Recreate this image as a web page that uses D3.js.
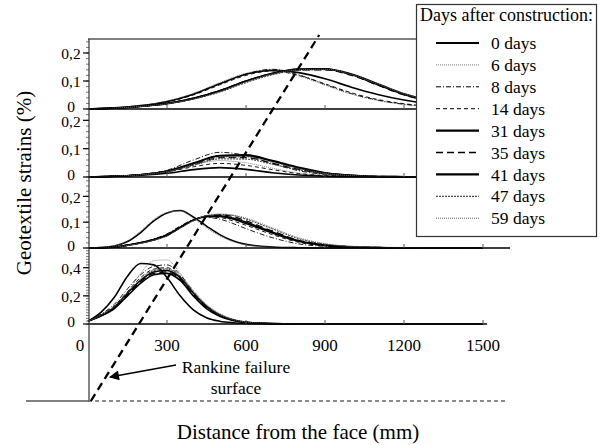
<!DOCTYPE html>
<html>
<head>
<meta charset="utf-8">
<script src="https://cdn.jsdelivr.net/npm/d3@7/dist/d3.min.js"></script>
<style>
  body { margin: 0; background: #fff; }
  svg text { font-family: "Liberation Serif", "DejaVu Serif", "Times New Roman", Times, serif; fill: #000; }
</style>
</head>
<body>
<div id="chart"></div>
<script>
// legend entries
var days = ["0 days", "6 days", "8 days", "14 days", "31 days", "35 days", "41 days", "47 days", "59 days"];

// distance from the face (mm) where strains were read
var dist = [0, 100, 200, 300, 400, 500, 600, 700, 800, 900, 1000, 1100, 1200, 1300, 1400, 1500];
var dist3 = [0, 100, 150, 200, 250, 300, 350, 400, 450, 500, 550, 600, 700, 800, 900, 1000, 1200, 1500];
var dist4 = [0, 50, 100, 150, 200, 250, 300, 350, 400, 450, 500, 550, 600, 700, 800, 1000, 1500];

// strains (%) per day, top layer first
var strains1 = [
  [0, 0.004, 0.012, 0.027, 0.053, 0.09, 0.124, 0.138, 0.13, 0.108, 0.078, 0.052, 0.032, 0.018, 0.01, 0.005],
  [0, 0.004, 0.013, 0.028, 0.056, 0.094, 0.128, 0.14, 0.118, 0.085, 0.053, 0.03, 0.016, 0.009, 0.004, 0.002],
  [0, 0.004, 0.012, 0.026, 0.052, 0.09, 0.125, 0.142, 0.122, 0.088, 0.055, 0.032, 0.017, 0.009, 0.004, 0.002],
  [0, 0.003, 0.011, 0.025, 0.05, 0.086, 0.12, 0.136, 0.12, 0.09, 0.058, 0.034, 0.019, 0.01, 0.005, 0.002],
  [0, 0.003, 0.009, 0.019, 0.037, 0.064, 0.099, 0.127, 0.142, 0.143, 0.123, 0.087, 0.052, 0.029, 0.015, 0.007],
  [0, 0.003, 0.009, 0.02, 0.039, 0.066, 0.1, 0.126, 0.14, 0.14, 0.12, 0.085, 0.05, 0.028, 0.014, 0.007],
  [0, 0.003, 0.01, 0.02, 0.038, 0.065, 0.1, 0.128, 0.143, 0.144, 0.125, 0.09, 0.054, 0.03, 0.016, 0.008],
  [0, 0.003, 0.009, 0.018, 0.035, 0.06, 0.094, 0.122, 0.138, 0.14, 0.122, 0.088, 0.053, 0.03, 0.015, 0.007],
  [0, 0.003, 0.009, 0.019, 0.036, 0.062, 0.097, 0.125, 0.14, 0.142, 0.124, 0.09, 0.055, 0.031, 0.016, 0.008]
];
var strains2 = [
  [0, 0.002, 0.006, 0.013, 0.026, 0.033, 0.027, 0.015, 0.007, 0.003, 0.001, 0, 0, 0, 0, 0],
  [0, 0.003, 0.008, 0.019, 0.042, 0.058, 0.05, 0.031, 0.014, 0.005, 0.002, 0.001, 0, 0, 0, 0],
  [0, 0.003, 0.009, 0.024, 0.06, 0.087, 0.076, 0.047, 0.022, 0.009, 0.003, 0.001, 0, 0, 0, 0],
  [0, 0.003, 0.008, 0.018, 0.036, 0.048, 0.041, 0.026, 0.012, 0.005, 0.002, 0.001, 0, 0, 0, 0],
  [0, 0.003, 0.008, 0.02, 0.047, 0.074, 0.075, 0.056, 0.032, 0.014, 0.006, 0.002, 0.001, 0, 0, 0],
  [0, 0.003, 0.008, 0.019, 0.044, 0.068, 0.068, 0.049, 0.027, 0.012, 0.005, 0.002, 0.001, 0, 0, 0],
  [0, 0.003, 0.008, 0.021, 0.049, 0.076, 0.078, 0.058, 0.034, 0.015, 0.006, 0.002, 0.001, 0, 0, 0],
  [0, 0.003, 0.008, 0.018, 0.041, 0.064, 0.063, 0.045, 0.025, 0.011, 0.004, 0.002, 0.001, 0, 0, 0],
  [0, 0.003, 0.008, 0.019, 0.044, 0.069, 0.07, 0.052, 0.03, 0.013, 0.005, 0.002, 0.001, 0, 0, 0]
];
var strains3 = [
  [0, 0.008, 0.025, 0.06, 0.105, 0.136, 0.145, 0.12, 0.085, 0.052, 0.028, 0.014, 0.004, 0.001, 0, 0, 0, 0],
  [0, 0.009, 0.028, 0.066, 0.11, 0.138, 0.143, 0.115, 0.078, 0.047, 0.025, 0.012, 0.003, 0.001, 0, 0, 0, 0],
  [0, 0.003, 0.012, 0.022, 0.035, 0.055, 0.085, 0.11, 0.118, 0.112, 0.095, 0.075, 0.04, 0.016, 0.006, 0.002, 0, 0],
  [0, 0.003, 0.011, 0.021, 0.034, 0.052, 0.082, 0.108, 0.12, 0.118, 0.105, 0.088, 0.052, 0.022, 0.008, 0.003, 0, 0],
  [0, 0.003, 0.011, 0.02, 0.033, 0.05, 0.08, 0.108, 0.122, 0.122, 0.112, 0.095, 0.058, 0.026, 0.01, 0.004, 0.001, 0],
  [0, 0.003, 0.01, 0.019, 0.031, 0.048, 0.078, 0.106, 0.124, 0.128, 0.122, 0.105, 0.066, 0.03, 0.012, 0.005, 0.001, 0],
  [0, 0.003, 0.011, 0.02, 0.032, 0.05, 0.08, 0.108, 0.123, 0.125, 0.116, 0.1, 0.062, 0.028, 0.011, 0.004, 0.001, 0],
  [0, 0.003, 0.01, 0.018, 0.03, 0.047, 0.077, 0.106, 0.125, 0.13, 0.126, 0.112, 0.074, 0.036, 0.015, 0.006, 0.001, 0],
  [0, 0.003, 0.01, 0.018, 0.03, 0.046, 0.076, 0.105, 0.126, 0.132, 0.128, 0.116, 0.078, 0.04, 0.017, 0.007, 0.002, 0]
];
var strains4 = [
  [0.02, 0.085, 0.19, 0.34, 0.43, 0.42, 0.33, 0.2, 0.1, 0.045, 0.02, 0.009, 0.004, 0.001, 0, 0, 0],
  [0.02, 0.055, 0.105, 0.22, 0.36, 0.45, 0.455, 0.36, 0.24, 0.14, 0.075, 0.035, 0.016, 0.004, 0.001, 0, 0],
  [0.02, 0.07, 0.14, 0.25, 0.35, 0.41, 0.42, 0.35, 0.23, 0.13, 0.065, 0.03, 0.013, 0.003, 0.001, 0, 0],
  [0.02, 0.065, 0.13, 0.23, 0.33, 0.39, 0.4, 0.34, 0.22, 0.125, 0.06, 0.028, 0.012, 0.003, 0.001, 0, 0],
  [0.02, 0.06, 0.12, 0.22, 0.31, 0.37, 0.38, 0.33, 0.22, 0.125, 0.065, 0.03, 0.013, 0.003, 0.001, 0, 0],
  [0.02, 0.06, 0.115, 0.21, 0.3, 0.36, 0.37, 0.32, 0.21, 0.12, 0.06, 0.028, 0.012, 0.003, 0.001, 0, 0],
  [0.02, 0.058, 0.11, 0.2, 0.29, 0.35, 0.36, 0.31, 0.2, 0.11, 0.055, 0.025, 0.011, 0.003, 0.001, 0, 0],
  [0.02, 0.062, 0.12, 0.215, 0.31, 0.38, 0.39, 0.335, 0.22, 0.13, 0.065, 0.03, 0.013, 0.003, 0.001, 0, 0],
  [0.02, 0.064, 0.125, 0.225, 0.32, 0.385, 0.395, 0.34, 0.23, 0.135, 0.07, 0.033, 0.014, 0.003, 0.001, 0, 0]
];

var xTicks = [0, 300, 600, 900, 1200, 1500];
var yTicksSmall = [0, 0.1, 0.2];
var yTicksBottom = [0, 0.2, 0.4];

// Rankine failure surface, distance (mm) at the base and at the top of the wall
var rankineX = [11, 878];

var svgWidth = 602;
var svgHeight = 445;
var serif = "'Liberation Serif', 'DejaVu Serif', 'Times New Roman', Times, serif";

var svg = d3.select("#chart")
  .append("svg")
  .attr("width", svgWidth)
  .attr("height", svgHeight)
  .attr("font-family", serif);

var xScale = d3.scaleLinear().domain([0, 1500]).range([88, 483]);

// wall height, 0 at the base, 1 at the top
var hScale = d3.scaleLinear().domain([0, 1]).range([401, 35]);

// line look for each day
var styles = [
  { w: 2.2, dash: null, col: "#000" },
  { w: 1, dash: "1,1", col: "#777" },
  { w: 1, dash: "5,2,1,2", col: "#000" },
  { w: 1, dash: "4,3", col: "#000" },
  { w: 2.2, dash: null, col: "#000" },
  { w: 1.4, dash: "7,4", col: "#000" },
  { w: 2.2, dash: null, col: "#000" },
  { w: 1, dash: "2,1", col: "#222" },
  { w: 1, dash: "1,1", col: "#666" }
];

var panels = [
  { top: 39, bottom: 109, max: 0.25, major: yTicksSmall, end: 1650, dist: dist, data: strains1 },
  { top: 109, bottom: 177, max: 0.24, major: yTicksSmall, end: 1650, dist: dist, data: strains2 },
  { top: 177, bottom: 248, max: 0.275, major: yTicksSmall, end: 1603, dist: dist3, data: strains3 },
  { top: 248, bottom: 324, max: 0.54, major: yTicksBottom, end: 1515, dist: dist4, data: strains4 }
];

function fmt(d) {
  return d === 0 ? "0" : d3.format(".1f")(d).replace(".", ",");
}

panels.forEach(function(p) {
  var yScale = d3.scaleLinear().domain([0, p.max]).range([p.bottom, p.top]);
  var g = svg.append("g");

  var line = d3.line()
    .x(function(d, i) { return xScale(p.dist[i]); })
    .y(function(d) { return yScale(d); })
    .curve(d3.curveMonotoneX);

  // curves
  g.selectAll("path.curve")
    .data(p.data)
    .enter()
    .append("path")
    .attr("class", "curve")
    .attr("d", line)
    .attr("fill", "none")
    .attr("stroke", function(d, i) { return styles[i].col; })
    .attr("stroke-width", function(d, i) { return styles[i].w > 2 ? 1.6 : styles[i].w * 0.9; })
    .attr("stroke-dasharray", function(d, i) { return styles[i].dash; });

  // panel base line
  g.append("line")
    .attr("x1", xScale(0)).attr("x2", xScale(p.end))
    .attr("y1", yScale(0)).attr("y2", yScale(0))
    .attr("stroke", "#000").attr("stroke-width", 1.6);

  // x ticks pointing up
  g.selectAll("line.xt")
    .data(xTicks.slice(1))
    .enter()
    .append("line")
    .attr("x1", function(d) { return xScale(d); })
    .attr("x2", function(d) { return xScale(d); })
    .attr("y1", yScale(0)).attr("y2", yScale(0) - 4)
    .attr("stroke", "#555").attr("stroke-width", 1);

  // minor y ticks
  g.selectAll("line.minor")
    .data(d3.range(0, p.max + 1e-9, 0.02))
    .enter()
    .append("line")
    .attr("x1", 86).attr("x2", 89)
    .attr("y1", function(d) { return yScale(d); })
    .attr("y2", function(d) { return yScale(d); })
    .attr("stroke", "#555").attr("stroke-width", 0.8);

  // major y ticks
  g.selectAll("line.major")
    .data(p.major)
    .enter()
    .append("line")
    .attr("x1", 83).attr("x2", 89)
    .attr("y1", function(d) { return yScale(d); })
    .attr("y2", function(d) { return yScale(d); })
    .attr("stroke", "#000").attr("stroke-width", 1.2);

  g.selectAll("text.ylab")
    .data(p.major)
    .enter()
    .append("text")
    .attr("x", 71)
    .attr("y", function(d) { return yScale(d); })
    .attr("dy", function(d) { return d === 0 ? "0.2em" : "0.4em"; })
    .style("text-anchor", "middle")
    .style("font-size", "15.5px")
    .text(fmt);
});

// top border of the upper panel
svg.append("line")
  .attr("x1", xScale(0)).attr("x2", xScale(1650))
  .attr("y1", panels[0].top).attr("y2", panels[0].top)
  .attr("stroke", "#555").attr("stroke-width", 1.5);

// face of the wall and the base
svg.append("line")
  .attr("x1", 89).attr("x2", 89)
  .attr("y1", panels[0].top).attr("y2", hScale(0))
  .attr("stroke", "#333").attr("stroke-width", 1.2);

svg.append("line")
  .attr("x1", 26).attr("x2", 89)
  .attr("y1", hScale(0)).attr("y2", hScale(0))
  .attr("stroke", "#000").attr("stroke-width", 1.2);

svg.append("line")
  .attr("x1", xScale(0)).attr("x2", xScale(1585))
  .attr("y1", hScale(0)).attr("y2", hScale(0))
  .attr("stroke", "#666").attr("stroke-width", 1.5)
  .attr("stroke-dasharray", "4,3");

// x tick labels
svg.selectAll("text.xlab")
  .data(xTicks)
  .enter()
  .append("text")
  .attr("x", function(d) { return xScale(d); })
  .attr("dx", function(d) { return d === 0 ? -8 : 0; })
  .attr("y", 351)
  .style("text-anchor", "middle")
  .style("font-size", "17px")
  .text(function(d) { return d; });

// Rankine failure surface
svg.append("line")
  .attr("x1", xScale(rankineX[0])).attr("y1", hScale(0))
  .attr("x2", xScale(rankineX[1])).attr("y2", hScale(1))
  .attr("stroke", "#000").attr("stroke-width", 2.3)
  .attr("stroke-dasharray", "8,5");

svg.append("defs").append("marker")
  .attr("id", "arrow")
  .attr("viewBox", "0 0 10 10")
  .attr("refX", 9).attr("refY", 5)
  .attr("markerWidth", 13).attr("markerHeight", 10)
  .attr("markerUnits", "userSpaceOnUse")
  .attr("orient", "auto")
  .append("path")
  .attr("d", "M0,0 L10,5 L0,10 Z")
  .attr("fill", "#000");

svg.append("line")
  .attr("x1", 176).attr("y1", 365)
  .attr("x2", 110).attr("y2", 377)
  .attr("stroke", "#000").attr("stroke-width", 1.3)
  .attr("marker-end", "url(#arrow)");

svg.append("text")
  .attr("x", 236).attr("y", 373)
  .style("text-anchor", "middle")
  .style("font-size", "17.5px")
  .text("Rankine failure");

svg.append("text")
  .attr("x", 236).attr("y", 394)
  .style("text-anchor", "middle")
  .style("font-size", "17.5px")
  .text("surface");

// axis titles
svg.append("text")
  .attr("transform", "translate(31, 183) rotate(-90)")
  .style("text-anchor", "middle")
  .style("font-size", "21px")
  .text("Geotextile strains (%)");

svg.append("text")
  .attr("x", 298).attr("y", 439)
  .style("text-anchor", "middle")
  .style("font-size", "21px")
  .text("Distance from the face (mm)");

// legend
var legend = svg.append("g");

legend.append("rect")
  .attr("x", 416.5).attr("y", 4.5)
  .attr("width", 180).attr("height", 232)
  .attr("fill", "#fff")
  .attr("stroke", "#333").attr("stroke-width", 1.2);

legend.append("text")
  .attr("x", 420).attr("y", 21)
  .style("font-size", "18px")
  .text("Days after construction:");

var rows = legend.selectAll("g.row")
  .data(days)
  .enter()
  .append("g")
  .attr("class", "row")
  .attr("transform", function(d, i) { return "translate(0," + (43 + i * 21.9) + ")"; });

rows.append("line")
  .attr("x1", 436).attr("x2", 479)
  .attr("y1", 0).attr("y2", 0)
  .attr("stroke", function(d, i) { return styles[i].col; })
  .attr("stroke-width", function(d, i) { return styles[i].w; })
  .attr("stroke-dasharray", function(d, i) { return styles[i].dash; });

rows.append("text")
  .attr("x", 491).attr("y", 0)
  .attr("dy", "0.35em")
  .style("font-size", "17.5px")
  .text(function(d) { return d; });
</script>
</body>
</html>
